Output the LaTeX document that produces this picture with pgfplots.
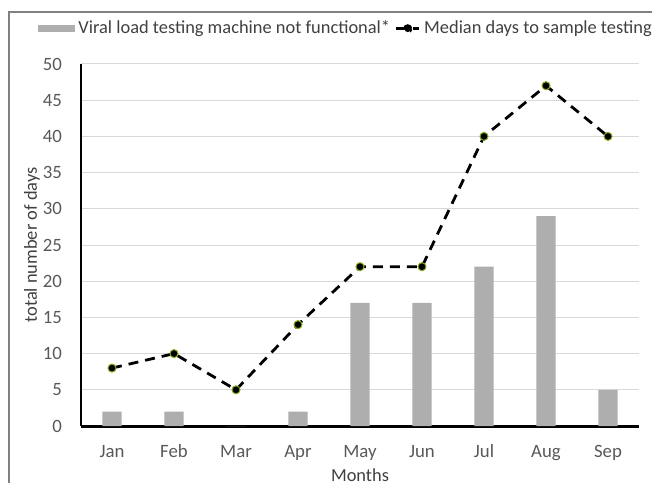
\documentclass[border=0pt]{standalone}
\usepackage{fontspec}
\setmainfont{Carlito}
\usepackage{pgfplots}
\pgfplotsset{compat=1.18}
\definecolor{barc}{RGB}{174,174,174}
\definecolor{gridc}{RGB}{217,217,217}
\definecolor{tickc}{RGB}{89,89,89}
\definecolor{labc}{RGB}{64,64,64}
\definecolor{mkedge}{RGB}{130,170,20}
\definecolor{framec}{RGB}{128,128,128}
\begin{document}
\begin{tikzpicture}[font=\fontsize{9.2pt}{11pt}\selectfont]
\useasboundingbox (0,0) rectangle (326pt,241.5pt);
\draw[framec, line width=1pt] (4.5pt,0) -- (4.5pt,235.5pt) -- (326pt,235.5pt);
\begin{axis}[
  at={(40.5pt,28.5pt)}, anchor=south west,
  scale only axis, width=279pt, height=181pt,
  xmin=-0.5, xmax=8.5, ymin=0, ymax=50,
  xtick={0,...,8},
  xticklabels={Jan,Feb,Mar,Apr,May,Jun,Jul,Aug,Sep},
  ytick={0,5,...,50},
  major tick length=0pt,
  axis x line=bottom, axis y line=left,
  x axis line style={-, line width=1.5pt},
  y axis line style={-, line width=1pt},
  ymajorgrids, grid style={gridc, line width=0.5pt},
  tick label style={text=tickc, font=\fontsize{9.4pt}{11pt}\selectfont},
  /pgf/number format/assume math mode=true,
  yticklabel style={xshift=-6pt},
  xticklabel style={yshift=-5.5pt, text height=6.5pt, text depth=1.5pt},
  xlabel={Months}, ylabel={total number of days},
  label style={text=labc, font=\fontsize{9.2pt}{11pt}\selectfont},
  xlabel style={at={(axis description cs:0.5,-0.135)}, anchor=center},
  ylabel style={at={(axis description cs:-0.088,0.5)}, anchor=center},
  legend columns=2,
  legend style={at={(0.476,1.097)}, anchor=center, draw=none, fill=none,
    text=labc, font=\fontsize{9.2pt}{11pt}\selectfont,
    nodes={inner xsep=1.8pt},
    /tikz/every even column/.append style={column sep=0.5pt}},
  clip=false,
]
\addplot[ybar, bar width=0.3125, fill=barc, draw=none,
  legend image code/.code={\fill[barc] (-2pt,-1.75pt) rectangle (16.5pt,1.75pt);}]
  coordinates {(0,2) (1,2) (2,0) (3,2) (4,17) (5,17) (6,22) (7,29) (8,5)};
\addlegendentry{Viral load testing machine not functional*}
\addplot[black, line width=1.4pt, dash pattern=on 5pt off 3.5pt,
  mark=*, mark size=2pt, mark options={solid, fill=black, draw=mkedge, line width=0.5pt},
  legend image code/.code={\draw[black, line width=1.4pt] (0pt,0pt) -- (11.5pt,0pt);
    \fill[black] (5.75pt,0pt) circle (1.6pt);}]
  coordinates {(0,8) (1,10) (2,5) (3,14) (4,22) (5,22) (6,40) (7,47) (8,40)};
\addlegendentry{Median days to sample testing}
\end{axis}
\end{tikzpicture}
\end{document}
